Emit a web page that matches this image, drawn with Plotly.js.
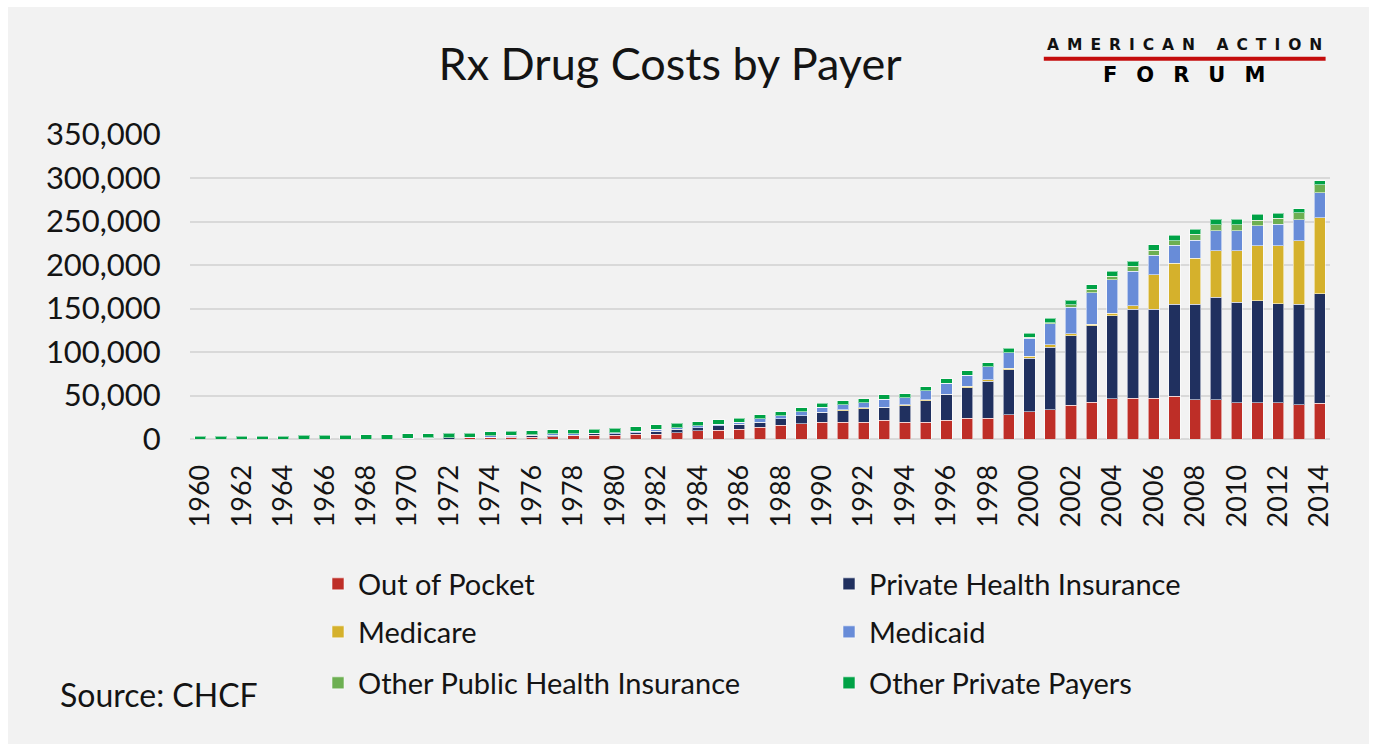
<!DOCTYPE html>
<html>
<head>
<meta charset="utf-8">
<script src="https://cdn.plot.ly/plotly-3.0.1.min.js"></script>
<style>
  html, body { margin: 0; padding: 0; background: #ffffff; }
  #chart { position: absolute; left: 8px; top: 7px; width: 1361px; height: 737px; }
</style>
</head>
<body>
<div id="chart"></div>
<script>
const years = [1960,1961,1962,1963,1964,1965,1966,1967,1968,1969,
               1970,1971,1972,1973,1974,1975,1976,1977,1978,1979,
               1980,1981,1982,1983,1984,1985,1986,1987,1988,1989,
               1990,1991,1992,1993,1994,1995,1996,1997,1998,1999,
               2000,2001,2002,2003,2004,2005,2006,2007,2008,2009,
               2010,2011,2012,2013,2014];

// values in millions of dollars
const outOfPocket = [0,0,0,0,0,0,0,0,0,0,
  0,0,0,1300,2000,2200,2200,2500,3800,4400,
  4400,5400,5600,7300,9300,10000,11300,13400,15800,17600,
  19500,19500,19500,21500,19500,19500,21800,24100,24100,27600,
  31400,33700,38700,42500,46300,46700,47100,49000,45200,45200,
  41400,41400,41400,39400,41200];
const privateInsurance = [0,0,0,0,0,0,0,0,0,0,
  0,1000,1200,200,200,400,2200,1800,600,1800,
  1900,1900,3600,3800,3800,5000,5500,5900,7400,9400,
  11400,12900,15000,14800,18700,24400,29800,34900,42500,52100,
  61300,72000,80000,87700,95400,102600,102300,106100,109900,117600,
  115700,117600,113800,115700,125700];
const medicare = [0,0,0,0,0,0,0,0,0,0,
  0,0,0,0,0,0,0,0,0,0,
  0,0,0,0,0,0,0,0,0,0,
  0,1200,1200,0,1200,1500,0,1500,1500,1900,
  2300,2700,2300,1900,3100,3800,39400,46700,52500,53600,
  59400,63200,67000,72600,87600];
const medicaid = [0,0,0,0,0,0,0,0,0,0,
  1000,300,300,300,1500,1500,400,1800,1600,400,
  1100,1900,1900,1900,1900,1900,2500,3800,3600,4100,
  5400,5900,6000,9600,7800,9800,12600,12800,14800,17800,
  21000,24300,30400,36200,38300,40000,22600,21100,21100,23000,
  23000,23000,24900,24400,28600];
const otherPublic = [0,0,0,0,0,0,0,0,0,0,
  0,0,0,0,0,0,0,0,0,0,
  0,0,0,0,0,0,0,0,0,0,
  0,0,0,0,0,0,0,0,0,0,
  800,1200,3200,3800,3800,5700,5700,5000,6900,6900,
  6900,6500,6900,7700,9100];
const otherPrivate = [3200,3200,3300,3300,3400,4500,4600,4600,4700,4800,
  4800,4900,5000,5000,4600,4600,4600,4300,4400,4400,
  5000,5000,5000,5000,5000,5000,4800,4800,4800,4600,
  4700,4700,4800,4800,4800,4800,5000,5000,5000,5000,
  5000,5000,4800,5400,5800,5800,6200,6200,5800,6200,
  6200,6500,5400,5000,4800];

const seriesNames = ["Out of Pocket","Private Health Insurance","Medicare","Medicaid",
                     "Other Public Health Insurance","Other Private Payers"];
const seriesColors = ["#BE2E27","#20305F","#D5B12C","#688CD8","#6DAF52","#00A246"];
const seriesData = [outOfPocket, privateInsurance, medicare, medicaid, otherPublic, otherPrivate];
const legendIds = ["legend","legend","legend2","legend2","legend3","legend3"];

const yTicks = [0,50000,100000,150000,200000,250000,300000,350000];

const FONT = "Lato, 'Open Sans', sans-serif";
const TXT = "#141414";

const traces = seriesData.map((vals, i) => ({
  type: "bar",
  name: seriesNames[i],
  x: years,
  y: vals,
  legend: legendIds[i],
  marker: { color: seriesColors[i], line: { color: "rgba(255,255,255,0.55)", width: 1 } },
  hovertemplate: "%{x}: %{y:,}<extra>" + seriesNames[i] + "</extra>"
}));

function legendCfg(yc) {
  return {
    orientation: "h",
    traceorder: "normal",
    xref: "container", yref: "container",
    x: 310/1361, y: yc, xanchor: "left", yanchor: "middle",
    entrywidth: 466, entrywidthmode: "pixels",
    bgcolor: "rgba(0,0,0,0)", borderwidth: 0,
    font: { family: FONT, size: 29, color: TXT },
    itemclick: false, itemdoubleclick: false
  };
}

const layout = {
  width: 1361, height: 737,
  paper_bgcolor: "#f2f2f2",
  plot_bgcolor: "rgba(0,0,0,0)",
  margin: { l: 181.6, r: 38.6, t: 127.2, b: 304.5, pad: 0 },
  barmode: "stack",
  bargap: 0.46,
  font: { family: FONT, color: TXT },
  title: {
    text: "Rx Drug Costs by Payer",
    font: { family: FONT, size: 45, color: TXT },
    xref: "container", yref: "container",
    x: 662/1361, xanchor: "center",
    y: 1 - 57/737, yanchor: "middle"
  },
  xaxis: {
    range: [1959.5, 2014.5],
    tick0: 1960, dtick: 2,
    tickangle: -90,
    ticks: "outside", ticklen: 14, tickcolor: "rgba(0,0,0,0)",
    tickfont: { family: FONT, size: 27, color: TXT },
    showgrid: false, zeroline: false, showline: false
  },
  yaxis: {
    range: [0, 350600],
    tickvals: yTicks,
    tickformat: ",",
    ticks: "outside", ticklen: 22, tickcolor: "rgba(0,0,0,0)",
    tickfont: { family: FONT, size: 31, color: TXT },
    showgrid: true, gridcolor: "#d9d9d9", gridwidth: 2,
    zeroline: true, zerolinecolor: "#d9d9d9", zerolinewidth: 2,
    showline: false
  },
  legend: legendCfg(1 - 577/737),
  legend2: legendCfg(1 - 625/737),
  legend3: legendCfg(1 - 676/737),
  shapes: [
    { type: "line", xref: "paper", yref: "paper",
      x0: (1036-181.6)/1140.8, x1: (1318-181.6)/1140.8,
      y0: (432.5-52)/305.3, y1: (432.5-52)/305.3,
      line: { color: "#C40C0C", width: 4 } }
  ],
  annotations: [
    { xref: "paper", yref: "paper",
      x: (1181-181.6)/1140.8, y: (432.5-38)/305.3,
      xanchor: "center", yanchor: "middle", showarrow: false,
      text: "<span style='letter-spacing:8px'>AMERICAN ACTION</span>",
      font: { family: "'DejaVu Sans', sans-serif", size: 15.5, color: "#111", weight: "bold" } },
    { xref: "paper", yref: "paper",
      x: (1186-181.6)/1140.8, y: (432.5-68)/305.3,
      xanchor: "center", yanchor: "middle", showarrow: false,
      text: "<span style='letter-spacing:19px'>FORUM</span>",
      font: { family: "'DejaVu Sans', sans-serif", size: 21, color: "#000", weight: "bold" } },
    { xref: "paper", yref: "paper",
      x: (50-181.6)/1140.8, y: (432.5-688)/305.3,
      xanchor: "left", yanchor: "middle", showarrow: false,
      text: "Source: CHCF",
      font: { family: FONT, size: 32, color: TXT } }
  ]
};

Plotly.newPlot("chart", traces, layout, { displayModeBar: false, responsive: false, staticPlot: false });
</script>
</body>
</html>
